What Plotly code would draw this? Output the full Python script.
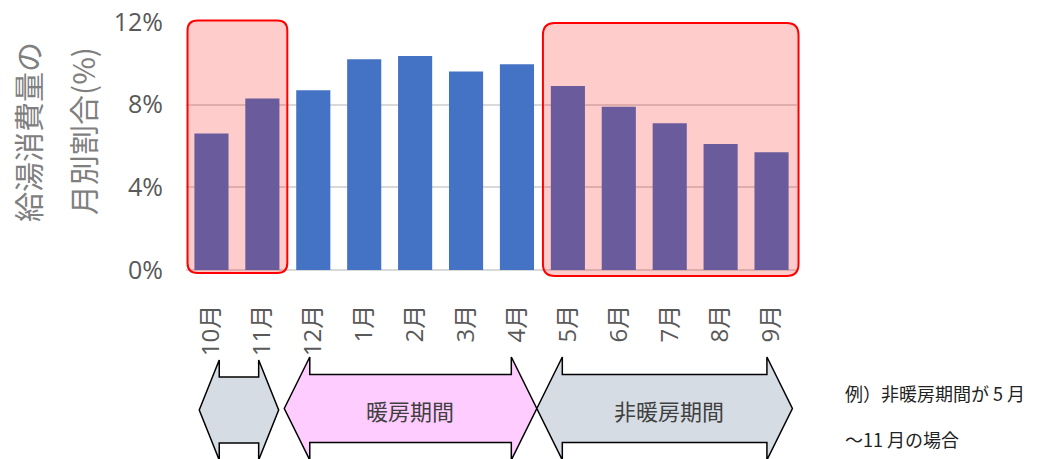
import plotly.graph_objects as go

# Monthly share of hot-water energy use (%), fiscal order starting in October
months = ["10月", "11月", "12月", "1月", "2月", "3月", "4月", "5月", "6月", "7月", "8月", "9月"]
share = [6.6, 8.3, 8.7, 10.2, 10.35, 9.6, 9.95, 8.9, 7.9, 7.1, 6.1, 5.7]
y_ticks = [0, 4, 8, 12]
y_tick_text = ["0%", "4%", "8%", "12%"]

period_heating = "暖房期間"
period_non_heating = "非暖房期間"
note_lines = ["例）非暖房期間が 5 月", "～11 月の場合"]

# Figure geometry (pixels)
W, H = 1055, 459
L, R, T, B = 186, 258, 22, 189
PW, PH = W - L - R, H - T - B
Y_MAX = 12


def px_to_paper_x(px):
    return (px - L) / PW


def px_to_paper_y(py):
    return (T + PH - py) / PH


def cat_px(i):
    """Pixel x of a category position (index, may be fractional)."""
    return L + (i + 0.5) * PW / len(months)


def rounded_rect(x0, y0, x1, y1, r):
    """SVG path (paper coords) for a rounded rectangle given in pixels."""
    def P(x, y):
        return f"{px_to_paper_x(x):.5f},{px_to_paper_y(y):.5f}"
    return (
        f"M {P(x0 + r, y0)} L {P(x1 - r, y0)} Q {P(x1, y0)} {P(x1, y0 + r)} "
        f"L {P(x1, y1 - r)} Q {P(x1, y1)} {P(x1 - r, y1)} "
        f"L {P(x0 + r, y1)} Q {P(x0, y1)} {P(x0, y1 - r)} "
        f"L {P(x0, y0 + r)} Q {P(x0, y0)} {P(x0 + r, y0)} Z"
    )


def double_arrow(xl, xr, head, cy, body_half, head_half):
    """SVG path (paper coords) for a left-right block arrow given in pixels."""
    pts = [
        (xl, cy), (xl + head, cy - head_half), (xl + head, cy - body_half),
        (xr - head, cy - body_half), (xr - head, cy - head_half), (xr, cy),
        (xr - head, cy + head_half), (xr - head, cy + body_half),
        (xl + head, cy + body_half), (xl + head, cy + head_half),
    ]
    s = " L ".join(f"{px_to_paper_x(x):.5f},{px_to_paper_y(y):.5f}" for x, y in pts)
    return f"M {s} Z"


def label(text, px, py, font, angle=0, xanchor="center"):
    return dict(
        text=text, x=px_to_paper_x(px), y=px_to_paper_y(py),
        xref="paper", yref="paper", xanchor=xanchor, yanchor="middle",
        showarrow=False, textangle=angle, font=font,
    )


fig = go.Figure()
fig.add_trace(go.Bar(
    x=list(range(len(months))),
    y=share,
    marker=dict(color="#4472C4", line=dict(width=0)),
    hoverinfo="skip",
))

shapes = []
# Highlighted non-heating months (red rounded frames, translucent red wash)
for x0, x1, y0, y1, r in [
    (cat_px(-0.47), cat_px(1.49), 20.5, 273, 10),
    (cat_px(6.51), cat_px(11.53), 23, 276, 12),
]:
    shapes.append(dict(
        type="path", xref="paper", yref="paper", layer="above",
        path=rounded_rect(x0, y0, x1, y1, r),
        fillcolor="rgba(255,0,0,0.2)",
        line=dict(color="#ff0000", width=2),
    ))

# Period arrows beneath the month labels
arrow_line = dict(color="#000000", width=1.5)
shapes.append(dict(
    type="path", xref="paper", yref="paper",
    path=double_arrow(cat_px(-0.24), cat_px(1.32), 20, 410, 33, 50),
    fillcolor="#d6dce4", line=arrow_line,
))
shapes.append(dict(
    type="path", xref="paper", yref="paper",
    path=double_arrow(cat_px(1.43), cat_px(6.39), 25.5, 408.5, 34, 51.5),
    fillcolor="#ffccff", line=arrow_line,
))
shapes.append(dict(
    type="path", xref="paper", yref="paper",
    path=double_arrow(cat_px(6.39), cat_px(11.41), 25.5, 408.5, 34, 51.5),
    fillcolor="#d6dce4", line=arrow_line,
))

cjk = "Noto Sans CJK JP"
title_font = dict(family=cjk, size=30, color="#7f7f7f")
caption_font = dict(family=cjk, size=22, color="#404040")
note_font = dict(family=cjk, size=18, color="#222222")

annotations = [
    # Vertical two-line axis title
    label("給湯消費量の", 27, 132, title_font, angle=-90),
    label("月別割合(%)", 82, 131, title_font, angle=-90),
    # Arrow captions
    label(period_heating, 410, 410, caption_font),
    label(period_non_heating, 669, 410, caption_font),
]
for line, py in zip(note_lines, [393, 439]):
    annotations.append(label(line, 843, py, note_font, xanchor="left"))

tick_font = dict(family="Open Sans, Noto Sans CJK JP", size=24, color="#595959")

fig.update_layout(
    width=W, height=H,
    margin=dict(l=L, r=R, t=T, b=B, pad=0, autoexpand=False),
    paper_bgcolor="white", plot_bgcolor="white",
    showlegend=False,
    bargap=0.33,
    shapes=shapes,
    annotations=annotations,
    xaxis=dict(
        range=[-0.5, len(months) - 0.5], automargin=False,
        tickmode="array", tickvals=list(range(len(months))), ticktext=months,
        tickangle=-90, tickfont=tick_font, ticklabelstandoff=29,
        showgrid=False, showline=False, zeroline=False, ticks="",
        fixedrange=True,
    ),
    yaxis=dict(
        range=[0, Y_MAX], automargin=False,
        tickmode="array", tickvals=y_ticks, ticktext=y_tick_text,
        tickfont=dict(family="Open Sans", size=25, color="#595959"),
        ticklabelstandoff=22,
        showgrid=True, gridcolor="#d9d9d9", gridwidth=1.5,
        zeroline=True, zerolinecolor="#d9d9d9", zerolinewidth=1.5,
        showline=False, ticks="", fixedrange=True,
    ),
)

fig.write_html("out.html")
